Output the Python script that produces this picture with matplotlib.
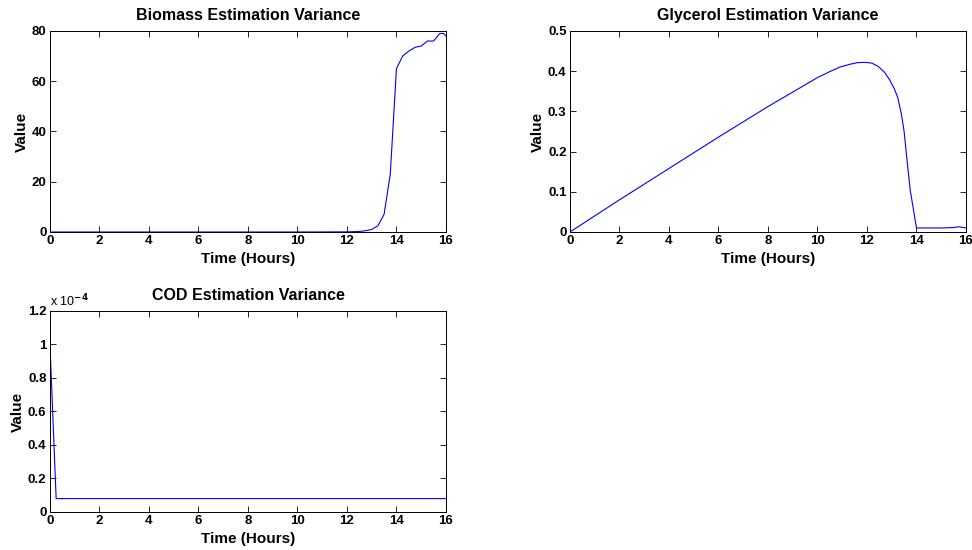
import matplotlib.pyplot as plt
from matplotlib.ticker import FuncFormatter

plt.rcParams["font.family"] = ["Liberation Sans", "DejaVu Sans"]
plt.rcParams["font.weight"] = "bold"

# Biomass estimation variance
bio_t = [0, 2, 4, 6, 8, 10, 12, 12.5, 12.75, 13, 13.25, 13.5, 13.75, 14,
         14.25, 14.5, 14.75, 15, 15.25, 15.5, 15.75, 15.9, 16]
bio_v = [0, 0, 0, 0, 0, 0, 0.05, 0.2, 0.5, 1.0, 2.5, 7, 23, 65,
         70, 72, 73.5, 74, 76, 76, 79, 79, 78]

# Glycerol estimation variance
gly_t = [0, 2, 4, 6, 8, 10, 10.5, 10.9, 11.3, 11.6, 11.9, 12.2, 12.45, 12.7,
         12.9, 13.1, 13.25, 13.4, 13.5, 13.65, 13.75, 14, 14.5, 15, 15.5,
         15.7, 16]
gly_v = [0, 0.08, 0.158, 0.236, 0.312, 0.384, 0.399, 0.41, 0.417, 0.421,
         0.422, 0.42, 0.412, 0.398, 0.38, 0.357, 0.333, 0.29, 0.25, 0.16,
         0.103, 0.01, 0.01, 0.01, 0.011, 0.013, 0.01]

# COD estimation variance
cod_t = [0, 0.25, 2, 4, 6, 8, 10, 12, 14, 16]
cod_v = [1.0e-4, 0.08e-4, 0.08e-4, 0.08e-4, 0.08e-4, 0.08e-4, 0.08e-4,
         0.08e-4, 0.08e-4, 0.08e-4]

xticks = [0, 2, 4, 6, 8, 10, 12, 14, 16]

fig = plt.figure(figsize=(9.72, 5.5), dpi=100)
ax1 = fig.add_axes([0.0514, 0.5782, 0.4074, 0.3655])
ax2 = fig.add_axes([0.5864, 0.5782, 0.4074, 0.3655])
ax3 = fig.add_axes([0.0514, 0.0691, 0.4074, 0.3655])


def style(ax, title):
    ax.set_xlim(0, 16)
    ax.set_xticks(xticks)
    ax.tick_params(direction="in", top=True, right=True, length=4,
                   width=0.6, labelsize=9.5, pad=2.5)
    for sp in ax.spines.values():
        sp.set_linewidth(0.7)
    ax.set_title(title, fontsize=11.5, fontweight="bold", pad=8)
    ax.set_xlabel("Time (Hours)", fontsize=11, fontweight="bold", labelpad=3)
    ax.set_ylabel("Value", fontsize=11, fontweight="bold", labelpad=2)


ax1.plot(bio_t, bio_v, color="#0000ff", lw=0.8)
ax1.set_ylim(0, 80)
ax1.set_yticks([0, 20, 40, 60, 80])
style(ax1, "Biomass Estimation Variance")

ax2.plot(gly_t, gly_v, color="#0000ff", lw=0.8)
ax2.set_ylim(0, 0.5)
ax2.set_yticks([0, 0.1, 0.2, 0.3, 0.4, 0.5])
ax2.yaxis.set_major_formatter(FuncFormatter(lambda v, p: f"{v:g}"))
style(ax2, "Glycerol Estimation Variance")

ax3.plot(cod_t, cod_v, color="#0000ff", lw=0.8)
ax3.set_ylim(0, 1.2e-4)
ax3.set_yticks([0, 0.2e-4, 0.4e-4, 0.6e-4, 0.8e-4, 1.0e-4, 1.2e-4])
ax3.yaxis.set_major_formatter(FuncFormatter(lambda v, p: f"{v / 1e-4:g}"))
style(ax3, "COD Estimation Variance")
ax3.text(0.0, 1.01, r"x 10$^{-4}$", transform=ax3.transAxes,
         fontsize=9, fontweight="normal", va="bottom", ha="left")

fig.savefig("out.png", dpi=100)
